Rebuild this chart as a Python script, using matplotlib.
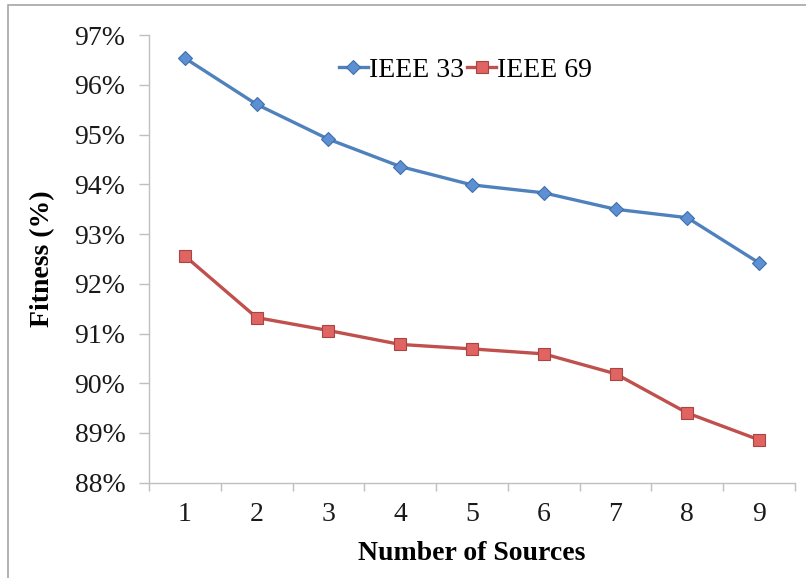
import matplotlib
matplotlib.use("Agg")
import matplotlib.pyplot as plt
from matplotlib.ticker import FuncFormatter, FixedLocator
from matplotlib.patches import Rectangle

sources = [1, 2, 3, 4, 5, 6, 7, 8, 9]
ieee33 = [96.54, 95.61, 94.91, 94.36, 93.99, 93.83, 93.50, 93.33, 92.42]
ieee69 = [92.56, 91.32, 91.06, 90.78, 90.69, 90.59, 90.19, 89.40, 88.86]
yticks = [88, 89, 90, 91, 92, 93, 94, 95, 96, 97]

plt.rcParams['font.family'] = ['Liberation Serif', 'DejaVu Serif']

fig = plt.figure(figsize=(8.06, 5.78), dpi=100)
# outer chart border (light gray)
fig.patches.append(Rectangle((8/806, -0.1), 1.2, 1 - 5/578 + 0.1, transform=fig.transFigure,
                             fill=False, edgecolor='#A6A6A6', linewidth=1.2))

ax = fig.add_axes([149/806, 1 - 482.6/578, (795 - 149)/806, (482.6 - 35.3)/578])

blue = '#4F81BD'
red = '#C0504D'
ax.plot(sources, ieee33, color=blue, linewidth=2.4, marker='D', markersize=7,
        markerfacecolor='#5D8FD3', markeredgecolor='#3F6FAA', markeredgewidth=0.8, label='IEEE 33')
ax.plot(sources, ieee69, color=red, linewidth=2.4, marker='s', markersize=8,
        markerfacecolor='#E06462', markeredgecolor='#A94442', markeredgewidth=0.8, label='IEEE 69')

ax.set_xlim(0.5, 9.5)
ax.set_ylim(88, 97)
ax.set_yticks(yticks)
ax.yaxis.set_major_formatter(FuncFormatter(lambda v, p: f"{v:.0f}%"))
ax.set_xticks(sources)
ax.xaxis.set_minor_locator(FixedLocator([s + 0.5 for s in [0] + sources]))
ax.tick_params(axis='x', which='major', length=0, labelsize=20, pad=14, colors='#1a1a1a')
ax.tick_params(axis='x', which='minor', length=6, width=1, color='#BFBFBF', direction='out')
ax.tick_params(axis='y', which='major', length=7, width=1, color='#BFBFBF', labelsize=20,
               pad=10, labelcolor='#1a1a1a')

for s in ['top', 'right']:
    ax.spines[s].set_visible(False)
for s in ['left', 'bottom']:
    ax.spines[s].set_color('#BFBFBF')
    ax.spines[s].set_linewidth(1)

ax.set_xlabel('Number of Sources', fontsize=20, fontweight='bold', labelpad=10)
ax.set_ylabel('Fitness (%)', fontsize=20, fontweight='bold', labelpad=14)

leg = ax.legend(loc='upper center', bbox_to_anchor=(0.5 - 0.01, 0.975), ncol=2, frameon=False,
                fontsize=20, handlelength=1.05, handletextpad=0.05, columnspacing=0.1,
                borderaxespad=0)

fig.savefig('out.png', dpi=100)
